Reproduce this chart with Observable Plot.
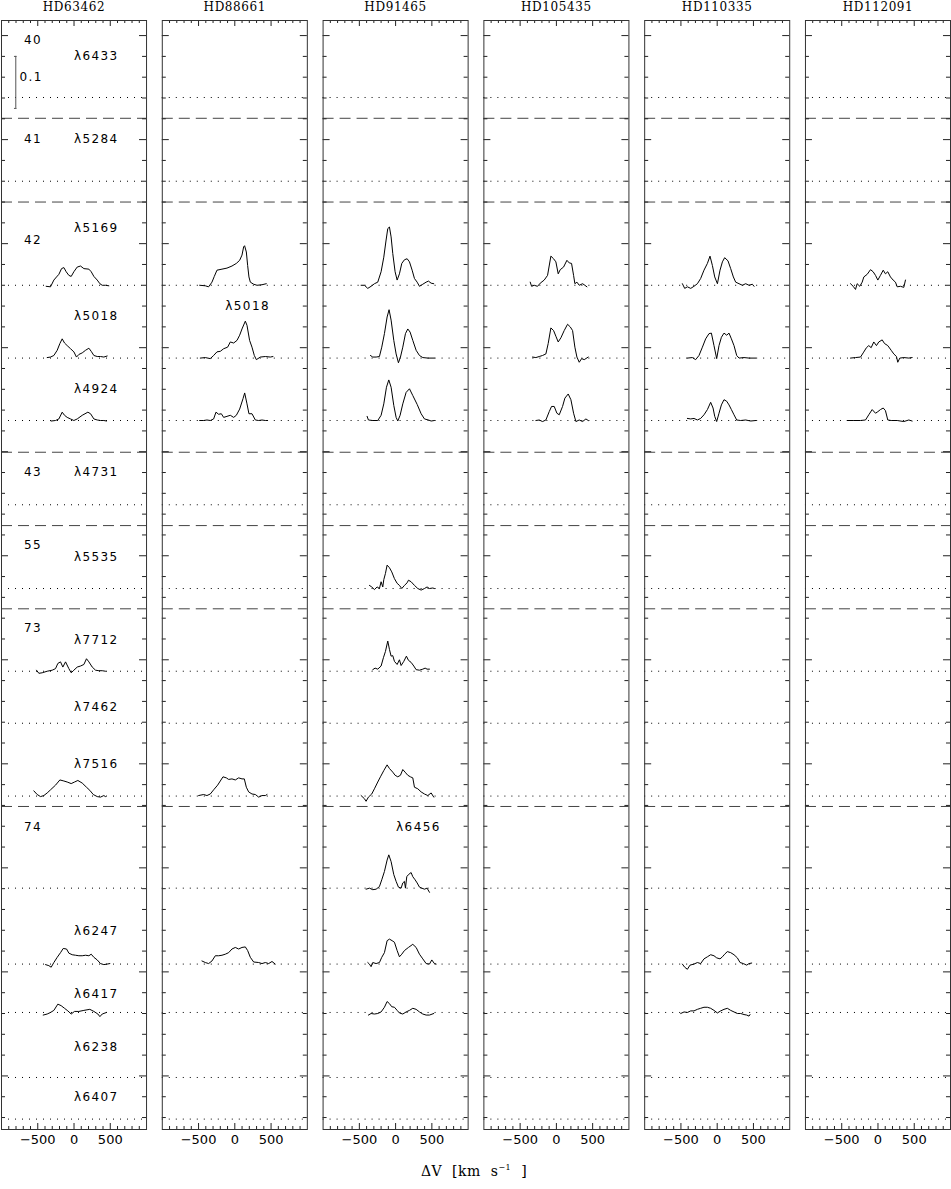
<!DOCTYPE html>
<html><head><meta charset="utf-8">
<script src="https://cdn.jsdelivr.net/npm/d3@7"></script>
<script src="https://cdn.jsdelivr.net/npm/@observablehq/plot@0.6"></script>
<style>
body{margin:0;background:#fff;}
#wrap{position:relative;width:951px;height:1189px;background:#fff;}
#xlabel{position:absolute;left:0;width:948px;top:1163px;text-align:center;font-family:"DejaVu Serif";font-size:14px;word-spacing:5px;letter-spacing:0.5px;color:#000;}
#xlabel sup{font-size:8px;}
</style></head><body><div id="wrap"><div id="chart"></div><div id="xlabel">ΔV [km s<sup>−1</sup> ]</div></div>
<script>
// ---------- DATA ----------
const stars = ["HD63462","HD88661","HD91465","HD105435","HD110335","HD112091"];
// spectral lines (rows), their continuum offsets (flux units)
const rowIds = ["6433","5284","5169","5018","4924","4731","5535","7712","7462","7516","6456","6247","6417","6238","6407"];
const rowBaselines = [2.081,1.920,1.720,1.580,1.460,1.298,1.137,0.978,0.878,0.738,0.561,0.415,0.322,0.197,0.117];
// multiplet separators
const separators = [2.041,1.880,1.399,1.258,1.098,0.718];
// multiplet numbers
const groupNumbers = ["40","41","42","43","55","73","74"];
const groupY = [2.191,2.001,1.806,1.360,1.220,1.060,0.678];
// line labels in first panel
const labelRows = ["6433","5284","5169","5018","4924","4731","5535","7712","7462","7516","6247","6417","6238","6407"];
const labelY = [2.160,2.001,1.830,1.661,1.520,1.360,1.197,1.038,0.909,0.799,0.479,0.358,0.256,0.159];
const extraLabels = [
  {star:"HD88661", row:"5018", v:-131, y:1.679},
  {star:"HD91465", row:"6456", v:7, y:0.678}
];
// scale bar (flux units)
const scaleBar = {star:"HD63462", v:-803, y1:2.06, y2:2.16, label:"0.1", labelV:-752, labelY:2.12};

// spectra: [velocity km/s, flux excess in % of continuum]
const HD63462_5169 = [[-384,-0.2],[-324,-0.3],[-278,1.0],[-241,1.6],[-209,2.1],[-172,3.2],[-140,3.4],[-108,2.6],[-71,1.9],[-39,1.7],[-2,2.6],[44,3.5],[90,3.7],[136,3.2],[205,3.1],[237,2.6],[274,1.7],[320,1.0],[357,0.3],[389,0],[434,0],[480,-0.1]];
const HD63462_5018 = [[-370,0.1],[-324,0.2],[-278,0.5],[-232,1.5],[-195,2.8],[-163,3.7],[-131,2.9],[-94,2.4],[-48,1.8],[-2,1.2],[34,0.2],[67,0.7],[113,1.0],[159,1.5],[205,1.9],[237,1.3],[274,0.5],[320,0.3],[365,0.3],[411,0.2],[457,0.4]];
const HD63462_4924 = [[-315,-0.1],[-255,0],[-209,0.3],[-163,1.6],[-131,1.0],[-94,0.6],[-48,0.3],[-2,0],[44,0.3],[113,1.0],[191,1.6],[228,1.3],[274,0.3],[320,0.1],[365,0],[411,0],[448,-0.1]];
const HD63462_7712 = [[-517,0.2],[-485,-0.4],[-439,-0.3],[-370,0],[-301,0.2],[-255,0.5],[-223,1.5],[-186,1.8],[-154,0.8],[-117,1.8],[-71,0.5],[-39,-0.3],[-2,0.2],[44,0.8],[90,1.0],[136,1.3],[172,2.4],[205,1.8],[251,0.8],[297,0.2],[343,0.1],[389,0.1],[434,0]];
const HD63462_7516 = [[-554,1.0],[-508,0.3],[-462,-0.1],[-416,0.1],[-370,0.6],[-324,1.2],[-255,2.1],[-195,3.1],[-140,2.9],[-94,2.7],[-39,2.4],[7,2.7],[53,3.0],[113,2.5],[172,1.7],[218,1.1],[265,0.3],[320,-0.1],[365,-0.2],[411,0.1],[434,-0.1]];
const HD63462_6247 = [[-393,-0.1],[-347,-0.3],[-315,-0.6],[-278,0.3],[-232,1.3],[-186,2.2],[-149,3.0],[-103,2.9],[-71,2.1],[-25,1.8],[21,1.7],[67,1.6],[113,1.6],[159,1.7],[205,1.6],[237,1.9],[274,1.3],[320,0.8],[365,0.1],[411,-0.1],[457,0],[494,0.1]];
const HD63462_6417 = [[-425,-0.5],[-370,-0.3],[-324,0],[-278,0.4],[-223,1.6],[-177,1.3],[-131,0.8],[-85,0.3],[-39,-0.3],[7,0.2],[67,0.2],[136,0.4],[218,0.6],[274,0.2],[329,-0.3],[357,-0.8],[389,-0.3],[448,0]];

const HD88661_5169 = [[-485,0],[-407,-0.1],[-361,-0.3],[-315,0.6],[-283,1.7],[-246,2.9],[-177,3.1],[-108,3.3],[-39,3.7],[21,4.2],[67,4.8],[99,5.8],[122,7.4],[135,7.6],[159,6.4],[177,3.8],[195,1.6],[214,0.6],[260,0.2],[306,0],[375,0.1],[434,0.3]];
const HD88661_5018 = [[-476,0],[-407,0.1],[-338,-0.1],[-292,0.5],[-246,1.2],[-200,1.3],[-154,1.8],[-99,2.1],[-62,3.1],[-16,2.9],[30,3.4],[67,4.4],[99,5.6],[145,7.1],[168,6.3],[204,3.4],[237,2.1],[269,0.5],[297,-0.3],[352,0.2],[421,0.3],[490,0.2],[526,0.3]];
const HD88661_4924 = [[-485,0],[-430,0],[-384,0.1],[-338,0],[-292,0.3],[-260,1.6],[-223,1.2],[-186,1.3],[-154,0.6],[-108,0.8],[-62,1.0],[-16,0.6],[21,1.0],[67,2.2],[113,4.2],[136,5.3],[168,3.2],[195,1.3],[237,1.3],[283,0.1],[329,0],[375,0.1],[421,0],[453,0]];
const HD88661_7516 = [[-499,0.1],[-430,0.3],[-384,0.1],[-338,0.4],[-292,1.2],[-237,2.1],[-200,2.9],[-163,3.7],[-117,3.5],[-85,3.2],[-39,3.3],[7,3.1],[53,3.5],[99,3.3],[131,3.3],[159,1.7],[191,0.8],[237,0.4],[283,0.3],[329,-0.2],[375,0.1],[421,0.1],[444,0.3]];
const HD88661_6247 = [[-453,0.6],[-407,0.3],[-361,0.1],[-315,0.6],[-269,1.6],[-223,1.6],[-177,1.7],[-131,1.9],[-85,2.2],[-39,2.9],[7,3.2],[53,2.9],[99,3.2],[145,3.3],[177,2.6],[214,1.3],[260,0.4],[329,0.3],[375,0.1],[421,0.3],[467,0.1],[513,0.5],[558,0]];

const HD91465_5169 = [[-476,0],[-430,0],[-384,-0.6],[-338,-0.2],[-292,0.3],[-246,0.6],[-200,2.6],[-163,5.4],[-131,8.7],[-108,10.9],[-85,11.2],[-62,9.3],[-39,6.1],[-7,2.6],[21,1.0],[53,2.2],[85,4.2],[122,4.9],[159,5.1],[191,4.5],[228,2.9],[260,1.3],[297,0.6],[329,-0.2],[375,0.2],[421,0.6],[453,0.8],[490,0.4],[526,0.3]];
const HD91465_5018 = [[-347,0.5],[-315,0.2],[-269,0.2],[-223,0.3],[-191,2.1],[-154,4.7],[-117,7.9],[-90,9.3],[-62,7.3],[-25,3.4],[7,0.8],[39,-0.9],[67,0.2],[99,2.1],[136,4.7],[168,5.6],[200,5.0],[237,3.4],[283,1.5],[329,0.5],[375,0.1],[444,0],[535,0]];
const HD91465_4924 = [[-393,0.8],[-375,0.1],[-315,0],[-246,0],[-200,1.0],[-163,3.2],[-126,6.4],[-94,7.8],[-62,6.4],[-25,2.9],[7,0.6],[30,-0.1],[62,1.0],[99,3.2],[145,5.4],[191,6.1],[237,4.8],[297,3.1],[352,1.3],[398,0.3],[453,0.1],[490,-0.1],[535,0]];
const HD91465_5535 = [[-361,0.6],[-329,0.3],[-292,-0.2],[-255,0.3],[-223,0],[-200,1.3],[-177,0.3],[-163,1.7],[-140,2.9],[-117,4.5],[-85,4.0],[-53,3.2],[-16,1.9],[21,1.0],[53,0.6],[85,0],[122,0.6],[159,1.1],[177,1.6],[214,1.3],[260,0.6],[306,0],[352,-0.3],[398,0],[434,0.3],[467,0],[513,0.1],[535,0]];
const HD91465_7712 = [[-315,0.3],[-283,0.6],[-246,0.4],[-200,1.0],[-168,2.6],[-140,3.8],[-108,5.8],[-85,4.2],[-62,2.9],[-39,3.0],[-16,1.9],[21,1.3],[53,2.2],[76,1.1],[113,1.9],[149,2.9],[177,2.1],[214,1.7],[251,1.0],[283,0.3],[329,0.2],[375,0.4],[407,0.6],[434,0.4],[467,0.4]];
const HD91465_7516 = [[-476,0.1],[-430,-0.5],[-407,-1.0],[-375,-0.2],[-329,0.4],[-292,1.4],[-246,2.7],[-209,3.7],[-163,4.9],[-117,6.0],[-85,5.3],[-39,4.6],[-7,4.0],[30,3.7],[67,4.0],[99,5.1],[131,4.6],[168,4.0],[204,3.7],[237,3.5],[260,1.7],[306,1.4],[352,0.8],[398,0.4],[444,0.1],[490,0.6],[526,-0.2]];
const HD91465_6456 = [[-407,-0.2],[-361,0],[-315,-0.3],[-269,-0.2],[-223,0.3],[-191,1.6],[-154,3.2],[-117,5.4],[-94,6.4],[-62,5.1],[-25,2.6],[7,1.3],[39,0.2],[76,0],[99,1.0],[122,1.3],[136,0],[154,2.2],[177,2.6],[214,3.0],[237,2.2],[269,1.6],[297,1.0],[329,0.2],[361,0],[398,-0.2],[434,0],[467,-0.8]];
const HD91465_6247 = [[-384,0.3],[-361,0],[-338,-0.5],[-315,0.3],[-269,0.1],[-223,0.3],[-191,1.3],[-154,2.2],[-117,4.5],[-85,4.8],[-48,4.5],[-16,4.2],[21,2.6],[53,1.4],[85,1.9],[122,2.6],[177,3.2],[237,3.8],[283,3.2],[329,1.9],[375,1.0],[421,0.1],[467,0],[499,0.8],[535,0.1],[559,0]];
const HD91465_6417 = [[-375,-0.5],[-338,-0.2],[-292,-0.3],[-246,-0.2],[-200,0.1],[-154,1.0],[-117,2.1],[-85,1.7],[-53,1.1],[-16,1.0],[21,0.4],[53,-0.1],[99,-0.3],[145,0.1],[191,0.4],[237,0.8],[283,0.6],[329,0.1],[375,-0.3],[421,-0.5],[467,-0.5],[526,-0.2]];

const HD105435_5169 = [[-361,0.6],[-342,-0.2],[-306,0],[-260,-0.2],[-223,0.4],[-168,1.0],[-122,1.9],[-76,5.6],[-39,5.1],[-7,4.5],[25,2.2],[53,3.0],[99,3.5],[145,4.8],[177,4.3],[209,4.2],[237,1.9],[255,0.3],[283,0.6],[315,0],[361,0.3],[393,0],[421,-0.3]];
const HD105435_5018 = [[-329,0.2],[-283,0.1],[-237,0.3],[-191,0.5],[-145,0.8],[-113,2.8],[-76,5.8],[-39,5.3],[-7,4.2],[25,3.1],[62,3.9],[108,5.3],[154,6.5],[191,6.0],[223,5.3],[255,2.1],[283,0.2],[315,-0.8],[348,-0.1],[384,-0.3],[439,0.2]];
const HD105435_4924 = [[-283,0],[-237,0.1],[-191,-0.2],[-145,0.1],[-99,1.7],[-67,2.7],[-30,2.7],[7,1.4],[39,1.1],[85,2.7],[117,4.3],[163,5.1],[200,4.0],[237,1.4],[269,-0.2],[315,0.1],[361,-0.2],[407,0.3],[439,0]];

const HD110335_5169 = [[-480,0.3],[-448,-0.6],[-411,-0.3],[-365,-0.6],[-320,-0.2],[-273,0.3],[-228,1.3],[-182,2.9],[-135,4.2],[-99,5.6],[-66,3.8],[-34,1.6],[3,0.3],[39,2.9],[72,4.5],[103,5.3],[149,4.7],[186,3.2],[223,1.6],[255,0.6],[301,0.3],[347,0],[393,0.3],[439,0],[485,0.2],[508,-0.2]];
const HD110335_5018 = [[-411,0],[-342,0.1],[-297,-0.3],[-251,0.5],[-204,2.1],[-159,3.7],[-113,4.7],[-80,4.8],[-44,2.4],[-7,-0.1],[25,2.4],[58,4.0],[94,4.8],[131,4.4],[163,4.8],[196,3.7],[232,2.4],[269,0.5],[301,0],[370,0.1],[439,0],[531,0]];
const HD110335_4924 = [[-411,0.4],[-365,0.3],[-320,0.4],[-273,0.1],[-228,0.4],[-182,1.1],[-135,2.1],[-90,3.5],[-57,2.4],[-34,0.8],[-7,-0.2],[25,1.4],[58,3.0],[94,4.0],[131,3.7],[163,3.0],[196,2.1],[232,1.1],[269,0.1],[324,0],[393,0.1],[462,-0.1],[531,0]];
const HD110335_6247 = [[-480,0],[-448,-0.6],[-411,-1.0],[-375,-0.2],[-320,0],[-273,0.3],[-228,0.1],[-182,1.0],[-135,1.4],[-90,1.8],[-44,1.6],[-7,1.2],[39,1.0],[72,1.4],[103,1.9],[140,2.4],[186,2.2],[232,1.8],[278,1.2],[315,0.3],[361,0.1],[407,-0.2],[439,0.1],[476,0.2]];
const HD110335_6417 = [[-503,-0.2],[-457,0.1],[-411,0],[-365,0.3],[-320,0.3],[-273,0.6],[-228,0.8],[-182,1.0],[-135,1.0],[-90,0.8],[-44,0.4],[3,-0.1],[48,0.3],[94,0.6],[140,0.8],[186,0.4],[232,0.1],[278,-0.2],[324,-0.2],[370,-0.4],[407,-0.5],[439,-0.7],[453,-0.4]];

const HD112091_5169 = [[-379,0.3],[-342,-0.2],[-310,-0.8],[-287,0.3],[-251,-0.2],[-218,0.6],[-195,1.6],[-149,2.1],[-103,3.0],[-67,2.6],[-34,1.9],[-2,1.0],[34,1.9],[72,2.9],[103,2.2],[135,2.6],[172,1.6],[209,1.0],[241,0.6],[265,-0.3],[310,-0.2],[356,-0.4],[379,1.0]];
const HD112091_5018 = [[-379,0],[-310,0.1],[-241,0.2],[-204,1.0],[-159,2.0],[-127,2.4],[-94,2.0],[-58,3.1],[-21,2.4],[11,3.1],[58,3.5],[90,2.8],[135,2.4],[182,1.5],[218,0.8],[255,0.3],[273,-0.8],[301,0],[356,0.1],[425,0],[471,0.1]];
const HD112091_4924 = [[-425,0],[-333,0],[-241,0],[-172,0.1],[-127,1.1],[-80,2.1],[-34,1.4],[-2,1.7],[34,2.1],[72,2.4],[103,1.9],[135,0.1],[182,0],[265,0],[356,-0.2],[425,0.1],[471,-0.1]];

const spectraList = [
  ["HD63462","5169",HD63462_5169],["HD63462","5018",HD63462_5018],["HD63462","4924",HD63462_4924],
  ["HD63462","7712",HD63462_7712],["HD63462","7516",HD63462_7516],["HD63462","6247",HD63462_6247],["HD63462","6417",HD63462_6417],
  ["HD88661","5169",HD88661_5169],["HD88661","5018",HD88661_5018],["HD88661","4924",HD88661_4924],
  ["HD88661","7516",HD88661_7516],["HD88661","6247",HD88661_6247],
  ["HD91465","5169",HD91465_5169],["HD91465","5018",HD91465_5018],["HD91465","4924",HD91465_4924],
  ["HD91465","5535",HD91465_5535],["HD91465","7712",HD91465_7712],["HD91465","7516",HD91465_7516],
  ["HD91465","6456",HD91465_6456],["HD91465","6247",HD91465_6247],["HD91465","6417",HD91465_6417],
  ["HD105435","5169",HD105435_5169],["HD105435","5018",HD105435_5018],["HD105435","4924",HD105435_4924],
  ["HD110335","5169",HD110335_5169],["HD110335","5018",HD110335_5018],["HD110335","4924",HD110335_4924],
  ["HD110335","6247",HD110335_6247],["HD110335","6417",HD110335_6417],
  ["HD112091","5169",HD112091_5169],["HD112091","5018",HD112091_5018],["HD112091","4924",HD112091_4924]
];

// ---------- BUILD ----------
const baseOf = new Map(rowIds.map((r,i)=>[r,rowBaselines[i]]));
const points = spectraList.flatMap(([star,row,pts]) =>
  pts.map(([v,p]) => ({star, key: star+row, v, f: baseOf.get(row) + p/100})));

const W = 951, H = 1160, mT = 20, mB = 31;
const yDomain = [0.097, 2.229];
const yPx = (yDomain[1]-yDomain[0])/(H-mT-mB); // flux units per pixel
const xPx = 2000/145;                          // km/s per pixel

const yTickVals = d3.range(3, 56).map(k => +(k*0.04).toFixed(2));
const yMinor = yTickVals.filter((d,i) => (i+3)%5 !== 0);
const yMajor = yTickVals.filter((d,i) => (i+3)%5 === 0);
const xMinor = d3.range(-9, 10).filter(k => k%5 !== 0).map(k => k*100);
const xMajor = [-500, 0, 500];

const firstLabels = labelRows.map((r,i)=>({star:stars[0], text:"λ"+r, v:0, y:labelY[i]}))
  .concat(extraLabels.map(d=>({star:d.star, text:"λ"+d.row, v:d.v, y:d.y})));
const groupLabels = groupNumbers.map((g,i)=>({star:stars[0], text:g, v:-690, y:groupY[i]}));

const tickStroke = "#222";
const chart = Plot.plot({
  width: W, height: H, marginTop: mT, marginBottom: mB, marginLeft: 1, marginRight: 1,
  x: {domain: [-1000, 1000]},
  y: {domain: yDomain, axis: null},
  fx: {domain: stars, paddingInner: 0.098, paddingOuter: 0, round: false},
  style: {background: "#fff", color: "#000", overflow: "visible"},
  marks: [
    Plot.ruleY(rowBaselines, {stroke: "#000", strokeDasharray: "1 6"}),
    Plot.ruleY(separators, {stroke: "#444", strokeDasharray: "11 6"}),
    // y ticks, inward on both sides
    Plot.ruleY(yMinor, {x1: -1000, x2: -1000 + 4*xPx, stroke: tickStroke}),
    Plot.ruleY(yMinor, {x1: 1000 - 4*xPx, x2: 1000, stroke: tickStroke}),
    Plot.ruleY(yMajor, {x1: -1000, x2: -1000 + 7*xPx, stroke: tickStroke}),
    Plot.ruleY(yMajor, {x1: 1000 - 7*xPx, x2: 1000, stroke: tickStroke}),
    // x ticks, inward on bottom and top
    Plot.ruleX(xMinor, {y1: yDomain[0], y2: yDomain[0] + 3*yPx, stroke: tickStroke}),
    Plot.ruleX(xMinor, {y1: yDomain[1] - 3*yPx, y2: yDomain[1], stroke: tickStroke}),
    Plot.ruleX(xMajor, {y1: yDomain[0], y2: yDomain[0] + 6*yPx, stroke: tickStroke}),
    Plot.ruleX(xMajor, {y1: yDomain[1] - 6*yPx, y2: yDomain[1], stroke: tickStroke}),
    Plot.frame({stroke: "#333"}),
    // spectra
    Plot.line(points, {x: "v", y: "f", z: "key", fx: "star", stroke: "#000", strokeWidth: 1}),
    // scale bar
    Plot.ruleX([scaleBar], {x: "v", y1: "y1", y2: "y2", fx: "star", stroke: "#555"}),
    Plot.ruleY([scaleBar], {y: "y1", x1: d => d.v - 18, x2: d => d.v + 18, fx: "star", stroke: "#555"}),
    Plot.ruleY([scaleBar], {y: "y2", x1: d => d.v - 18, x2: d => d.v + 18, fx: "star", stroke: "#555"}),
    Plot.text([scaleBar], {x: "labelV", y: "labelY", text: "label", fx: "star", textAnchor: "start",
      fontSize: 12, fontFamily: "DejaVu Sans", fill: "#000"}),
    // labels
    Plot.text(firstLabels, {x: "v", y: "y", text: "text", fx: "star", textAnchor: "start",
      fontSize: 12, fontFamily: "DejaVu Sans", fill: "#000"}),
    Plot.text(groupLabels, {x: "v", y: "y", text: "text", fx: "star", textAnchor: "start",
      fontSize: 12, fontFamily: "DejaVu Sans", fill: "#000"}),
    // axes
    Plot.axisFx({anchor: "top", label: null, tickSize: 0, tickPadding: 10, fontSize: 12, fontFamily: "DejaVu Serif"}),
    Plot.axisX({anchor: "bottom", ticks: xMajor, tickSize: 0, tickPadding: 5, label: null, fontSize: 13, fontFamily: "DejaVu Sans"})
  ]
});
document.getElementById("chart").appendChild(chart);
d3.select(chart).selectAll('g[aria-label="text"]').attr("letter-spacing", "1.4px");
d3.select(chart).selectAll('g[aria-label="fx-axis tick label"]').attr("letter-spacing", "0.6px");
</script>
</body></html>
